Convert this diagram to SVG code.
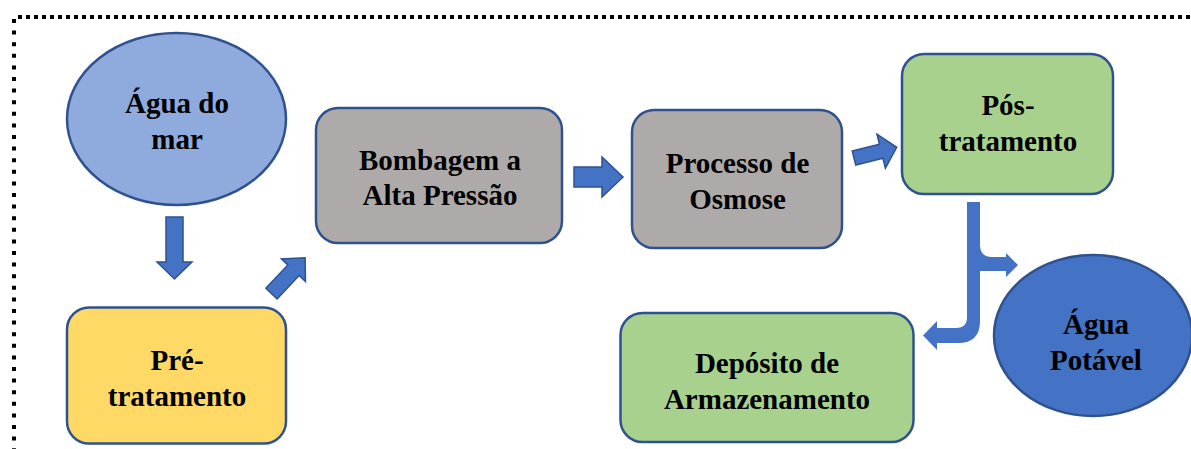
<svg xmlns="http://www.w3.org/2000/svg" width="1191" height="449" viewBox="0 0 1191 449">
<style>
.node{stroke:#2F528F;stroke-width:2.5}
.gray{fill:#AEAAAA}
.green{fill:#A9D18E}
.yellow{fill:#FFD966}
.lblue{fill:#8FAADC}
.dblue{fill:#4472C4}
.arrow{fill:#4472C4;stroke:#2F528F;stroke-width:1.5;stroke-linejoin:miter}
text{font-family:"Liberation Serif","Times New Roman",serif;font-weight:bold;font-size:29px;fill:#000;text-anchor:middle}
</style>
<rect width="1191" height="449" fill="#fff"/>
<g id="border" fill="none" stroke="#000" stroke-width="4">
<line x1="18" y1="17" x2="1191" y2="17" stroke-dasharray="4 4"/>
<line x1="14" y1="19" x2="14" y2="449" stroke-dasharray="4 7.6"/>
</g>
<g id="connectors">
<polygon class="arrow" points="166,217 183,217 183,262 192,262 174.5,279 157,262 166,262"/>
<polygon class="arrow" transform="translate(271.5,293.5) rotate(-46.7)" points="0,-7.75 32,-7.75 32,-16.5 49,0 32,16.5 32,7.75 0,7.75"/>
<polygon class="arrow" points="574,167 602,167 602,157 623,177 602,197 602,187 574,187"/>
<polygon class="arrow" transform="translate(854,158) rotate(-14)" points="0,-7.25 28,-7.25 28,-17.5 44,0 28,17.5 28,7.25 0,7.25"/>
<path fill="#4472C4" d="M967,202 L980,202 L980,245 Q980,257 992,257 L1006,257 L1006,253 L1018,265 L1006,277 L1006,271 L980,271 L980,321 Q980,343 958,343 L937,343 L937,350 L923,335.5 L937,321 L937,328 L956,328 Q967,328 967,317 Z"/>
</g>
<g id="agua-do-mar">
<ellipse class="node lblue" cx="176.5" cy="119" rx="109.5" ry="86"/>
<text x="177" y="113">Água do</text>
<text x="177" y="149">mar</text>
</g>
<g id="pre-tratamento">
<rect class="node yellow" x="67" y="307.5" width="219" height="136" rx="22"/>
<text x="177" y="370">Pré-</text>
<text x="177" y="406">tratamento</text>
</g>
<g id="bombagem">
<rect class="node gray" x="316" y="108" width="246" height="135" rx="22"/>
<text x="440" y="170">Bombagem a</text>
<text x="440" y="205">Alta Pressão</text>
</g>
<g id="osmose">
<rect class="node gray" x="632" y="110" width="210" height="138" rx="22"/>
<text x="737.5" y="173">Processo de</text>
<text x="737.5" y="209">Osmose</text>
</g>
<g id="pos-tratamento">
<rect class="node green" x="902" y="54" width="211" height="140" rx="22"/>
<text x="1008" y="115">Pós-</text>
<text x="1008" y="151">tratamento</text>
</g>
<g id="deposito">
<rect class="node green" x="620.5" y="313" width="293" height="129" rx="22"/>
<text x="767" y="373">Depósito de</text>
<text x="767" y="409">Armazenamento</text>
</g>
<g id="agua-potavel">
<ellipse class="node dblue" cx="1093" cy="335.5" rx="99" ry="80.5"/>
<text x="1096" y="334">Água</text>
<text x="1096" y="370">Potável</text>
</g>
</svg>
